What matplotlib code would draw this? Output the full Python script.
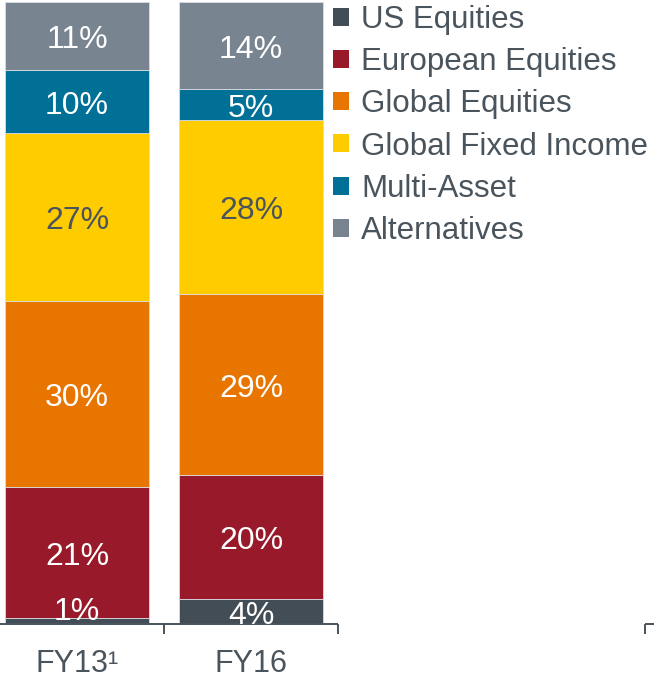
import numpy as np
import matplotlib
matplotlib.use("Agg")
import matplotlib.pyplot as plt
from matplotlib.patches import Patch
from matplotlib.transforms import offset_copy

plt.rcParams['font.family'] = ['Liberation Sans', 'DejaVu Sans']

periods = ['FY13¹', 'FY16']
series = ['US Equities', 'European Equities', 'Global Equities',
          'Global Fixed Income', 'Multi-Asset', 'Alternatives']
us_equities = [1, 4]
european_equities = [21, 20]
global_equities = [30, 29]
global_fixed_income = [27, 28]
multi_asset = [10, 5]
alternatives = [11, 14]
values = [us_equities, european_equities, global_equities,
          global_fixed_income, multi_asset, alternatives]

colors = ['#434d55', '#97192a', '#e87500', '#ffcc00', '#007096', '#788591']
label_colors = ['white', 'white', 'white', '#4a545c', 'white', 'white']
text_grey = '#4a545c'

fig = plt.figure(figsize=(6.54, 6.78), dpi=100)
# axes covers the full width; bar px centres at 77 and 251, step 174 px
ax = fig.add_axes([0, 54 / 678, 1, 1 - 56 / 678])
step = 174.0
ax.set_xlim(-77 / step, (654 - 77) / step)
ax.set_ylim(0, 100)
lab_tr = offset_copy(ax.transData, fig=fig, x=0, y=-3, units='points')

x = np.arange(len(periods))
bottom = np.zeros(len(periods))
for name, vals, c, lc in zip(series, values, colors, label_colors):
    vals = np.array(vals, dtype=float)
    ax.bar(x, vals, bottom=bottom, width=144 / step, color=c,
           edgecolor='#d8dde2', linewidth=0.6)
    for xi, b, v in zip(x, bottom, vals):
        y = b + v / 2
        if v < 3:
            y = b + 2.6
        ax.text(xi, y, f'{int(v)}%', ha='center', va='center',
                color=lc, fontsize=23, transform=lab_tr)
    bottom += vals

# category axis line with ticks
ax.set_axis_off()
axis_kw = dict(color=text_grey, lw=1.4, clip_on=False, solid_capstyle='butt')
ax.plot([-0.5, 1.5], [0, 0], **axis_kw)
for t in [0.5, 1.5]:
    ax.plot([t, t], [0, -1.6], **axis_kw)
xr = (645 - 77) / step
ax.plot([xr, ax.get_xlim()[1]], [0, 0], **axis_kw)
ax.plot([xr, xr], [0, -1.6], **axis_kw)

for xi, p in zip(x, periods):
    ax.text(xi, -5.8, p, ha='center', va='center', color=text_grey,
            fontsize=22, transform=lab_tr)

handles = [Patch(facecolor=c, edgecolor='none') for c in colors]
fig.legend(handles, series, loc='upper left',
           bbox_to_anchor=(333 / 654, 1 - 5 / 678),
           frameon=False, fontsize=22.5, labelcolor=text_grey,
           handlelength=0.51, handleheight=0.51, handletextpad=0.4,
           labelspacing=0.39, borderpad=0.0, borderaxespad=0)

fig.savefig('out.png', dpi=100)
